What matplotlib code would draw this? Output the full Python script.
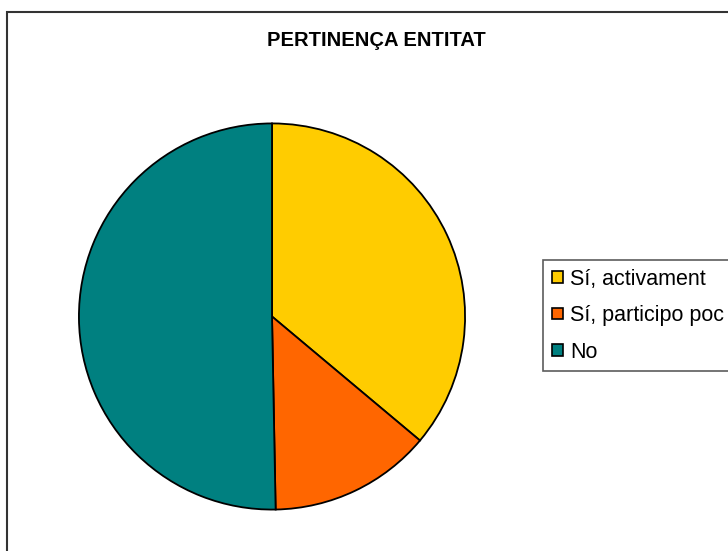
import matplotlib.pyplot as plt
from matplotlib.patches import Rectangle

plt.rcParams['font.family'] = ['Liberation Sans', 'DejaVu Sans']

# dades
categories = ["Sí, activament", "Sí, participo poc", "No"]
values = [36.1, 13.6, 50.3]
colors = ["#FFCC00", "#FF6600", "#008080"]

fig = plt.figure(figsize=(7.28, 5.51), dpi=100)

# marc exterior del gràfic (surt per la dreta i per baix)
fig.patches.append(Rectangle((7 / 728, -0.05), 1.0, 1 - 12 / 551 + 0.05,
                             transform=fig.transFigure, fill=False,
                             edgecolor="#333333", linewidth=1.5))

fig.text(376 / 728, 1 - 40 / 551, "PERTINENÇA ENTITAT",
         ha="center", va="center", fontsize=14.5, fontweight="bold")

# pastís
cx, cy, r = 272 / 728, 1 - 316.5 / 551, 195
ax = fig.add_axes([cx - r / 728, cy - r / 551, 2 * r / 728, 2 * r / 551])
wedges, _ = ax.pie(values, colors=colors, startangle=90, counterclock=False,
                   wedgeprops=dict(edgecolor="black", linewidth=1.3))
ax.set_xlim(-1.01, 1.01)
ax.set_ylim(-1.01, 1.01)
ax.set_aspect("equal")
ax.axis("off")

leg = fig.legend(wedges, categories, loc="upper left",
                 bbox_to_anchor=(543 / 728, 1 - 260 / 551),
                 fontsize=15.5, frameon=True, fancybox=False,
                 edgecolor="#333333", handlelength=0.55, handleheight=0.7,
                 handletextpad=0.3, labelspacing=0.72, borderpad=0.4,
                 borderaxespad=0)
leg.get_frame().set_linewidth(1.2)
# marcadors quadrats centrats a la fila
for h in leg.legend_handles:
    h.set_edgecolor("black")
    h.set_linewidth(1.2)
    side = h.get_width()
    h.set_y(h.get_y() + (h.get_height() - side) / 2)
    h.set_height(side)

fig.savefig("out.png", dpi=100)
